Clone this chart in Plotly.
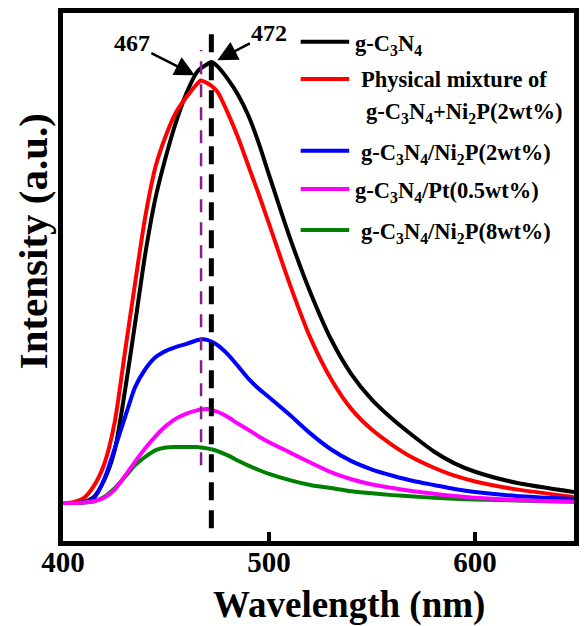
import plotly.graph_objects as go

wavelength = [400, 405, 410, 415, 420, 425, 430, 435, 440, 445, 450, 455, 460, 465, 467, 470,
              472, 475, 480, 485, 490, 495, 500, 510, 520, 530, 540, 550, 560, 570, 580, 590,
              600, 620, 648]

g_c3n4 = [0, 0, 0.002, 0.014, 0.052, 0.118, 0.252, 0.408, 0.567, 0.694, 0.787, 0.866, 0.930,
          0.977, 0.986, 0.995, 1.0, 0.990, 0.961, 0.925, 0.878, 0.816, 0.744, 0.603, 0.478,
          0.372, 0.292, 0.234, 0.190, 0.152, 0.117, 0.090, 0.071, 0.046, 0.025]
phys_mix = [0, 0.002, 0.011, 0.039, 0.088, 0.181, 0.340, 0.499, 0.651, 0.764, 0.834, 0.887,
            0.921, 0.950, 0.958, 0.952, 0.946, 0.932, 0.884, 0.828, 0.764, 0.700, 0.633, 0.497,
            0.375, 0.282, 0.213, 0.166, 0.131, 0.102, 0.080, 0.062, 0.049, 0.031, 0.014]
ni2p_2 = [0, 0, 0.002, 0.011, 0.054, 0.122, 0.193, 0.263, 0.304, 0.331, 0.345, 0.354, 0.361,
          0.369, 0.371, 0.370, 0.366, 0.358, 0.337, 0.310, 0.282, 0.259, 0.240, 0.200, 0.158,
          0.122, 0.095, 0.076, 0.062, 0.050, 0.041, 0.032, 0.025, 0.016, 0.009]
pt_05 = [0, 0, 0.001, 0.004, 0.012, 0.030, 0.061, 0.094, 0.125, 0.152, 0.175, 0.192, 0.203,
         0.210, 0.212, 0.213, 0.211, 0.207, 0.195, 0.180, 0.166, 0.151, 0.138, 0.115, 0.092,
         0.070, 0.054, 0.042, 0.034, 0.027, 0.021, 0.016, 0.012, 0.007, 0.003]
ni2p_8 = [0, 0, 0.001, 0.004, 0.014, 0.033, 0.059, 0.086, 0.105, 0.120, 0.126, 0.127, 0.127,
          0.127, 0.126, 0.124, 0.122, 0.118, 0.108, 0.096, 0.085, 0.075, 0.066, 0.052, 0.041,
          0.034, 0.027, 0.022, 0.018, 0.015, 0.012, 0.010, 0.008, 0.006, 0.003]

series_names = ["g-C<sub>3</sub>N<sub>4</sub>",
                "Physical mixture of<br>g-C<sub>3</sub>N<sub>4</sub>+Ni<sub>2</sub>P(2wt%)",
                "g-C<sub>3</sub>N<sub>4</sub>/Ni<sub>2</sub>P(2wt%)",
                "g-C<sub>3</sub>N<sub>4</sub>/Pt(0.5wt%)",
                "g-C<sub>3</sub>N<sub>4</sub>/Ni<sub>2</sub>P(8wt%)"]
series_values = [g_c3n4, phys_mix, ni2p_2, pt_05, ni2p_8]
series_colors = ["#000000", "#FF0000", "#0000FF", "#FF00FF", "#008000"]

peak_labels = ["467", "472"]
peak_positions = [467, 472]

x_ticks = [400, 500, 600]

FONT = "Liberation Serif"
W, H = 584, 626
ML, MR, MT, MB = 63, 5, 13, 85

fig = go.Figure()

draw_order = [0, 1, 2, 4, 3]
for i in draw_order:
    fig.add_trace(go.Scatter(x=wavelength, y=series_values[i], mode="lines",
                             name=series_names[i], showlegend=False,
                             line=dict(color=series_colors[i], width=4, shape="spline",
                                       smoothing=0.7)))

# dashed guide lines at peak positions
fig.add_shape(type="line", xref="x", yref="y", x0=peak_positions[0], x1=peak_positions[0],
              y0=0.086, y1=1.027, line=dict(color="#8B1A8B", width=2.5, dash="13px,10px"))
fig.add_shape(type="line", xref="x", yref="y", x0=peak_positions[1], x1=peak_positions[1],
              y0=-0.057, y1=1.073, line=dict(color="#000000", width=5, dash="18px,10px"))

# peak arrows
fig.add_annotation(x=464.0, y=0.970, xref="x", yref="y", text=peak_labels[0],
                   showarrow=True, ax=-63, ay=-32, arrowhead=2, arrowsize=1.6,
                   arrowwidth=2.5, arrowcolor="#000000",
                   font=dict(family=FONT, size=24, color="#000000", weight="bold"))
fig.add_annotation(x=474.9, y=1.004, xref="x", yref="y", text=peak_labels[1],
                   showarrow=True, ax=52, ay=-27, arrowhead=2, arrowsize=1.6,
                   arrowwidth=2.5, arrowcolor="#000000",
                   font=dict(family=FONT, size=24, color="#000000", weight="bold"))

# manual legend (pixel layout -> paper coords)
pw = W - ML - MR
ph = H - MT - MB


def px(xp):
    return (xp - ML) / pw


def py(yp):
    return 1 - (yp - MT) / ph


LF = 22.5
legend_line_y = [41.7, 79, 150.7, 189, 230]
legend_text_x = [356, 362, 362, 356, 362]
for k in range(5):
    fig.add_shape(type="line", xref="paper", yref="paper", x0=px(303), x1=px(352),
                  y0=py(legend_line_y[k]), y1=py(legend_line_y[k]),
                  line=dict(color=series_colors[k], width=4))
for k in [0, 2, 3, 4]:
    fig.add_annotation(xref="paper", yref="paper", x=px(legend_text_x[k]),
                       y=py(legend_line_y[k] + 3), xanchor="left", yanchor="middle",
                       text=series_names[k], showarrow=False,
                       font=dict(family=FONT, size=LF, color="#000000", weight="bold"))
fig.add_annotation(xref="paper", yref="paper", x=px(362), y=py(79), xanchor="left",
                   yanchor="middle", text="Physical mixture of", showarrow=False,
                   font=dict(family=FONT, size=LF, color="#000000", weight="bold"))
fig.add_annotation(xref="paper", yref="paper", x=px(367), y=py(113), xanchor="left",
                   yanchor="middle",
                   text="g-C<sub>3</sub>N<sub>4</sub>+Ni<sub>2</sub>P(2wt%)", showarrow=False,
                   font=dict(family=FONT, size=LF, color="#000000", weight="bold"))

# axis titles placed as in the reference
fig.add_annotation(xref="paper", yref="paper", x=px(352), y=py(605), xanchor="center",
                   yanchor="middle", text="Wavelength (nm)", showarrow=False,
                   font=dict(family=FONT, size=37, color="#000000", weight="bold"))
fig.add_annotation(xref="paper", yref="paper", x=px(33), y=py(241), xanchor="center",
                   yanchor="middle", text="Intensity (a.u.)", showarrow=False, textangle=-90,
                   font=dict(family=FONT, size=41, color="#000000", weight="bold"))

fig.update_layout(
    width=W, height=H,
    margin=dict(l=ML, r=MR, t=MT, b=MB),
    paper_bgcolor="white", plot_bgcolor="white",
    font=dict(family=FONT, color="#000000", weight="bold"),
    xaxis=dict(range=[400, 648], tickvals=x_ticks, ticktext=[str(v) for v in x_ticks],
               ticks="inside", ticklen=9, tickwidth=4, tickcolor="#000000",
               ticklabelstandoff=-9,
               showline=True, linewidth=5, linecolor="#000000", mirror=True,
               showgrid=False, zeroline=False,
               tickfont=dict(family=FONT, size=29, color="#000000", weight="bold")),
    yaxis=dict(range=[-0.086, 1.111], showticklabels=False, ticks="",
               showline=True, linewidth=5, linecolor="#000000", mirror=True,
               showgrid=False, zeroline=False),
)

fig.write_html("out.html")
